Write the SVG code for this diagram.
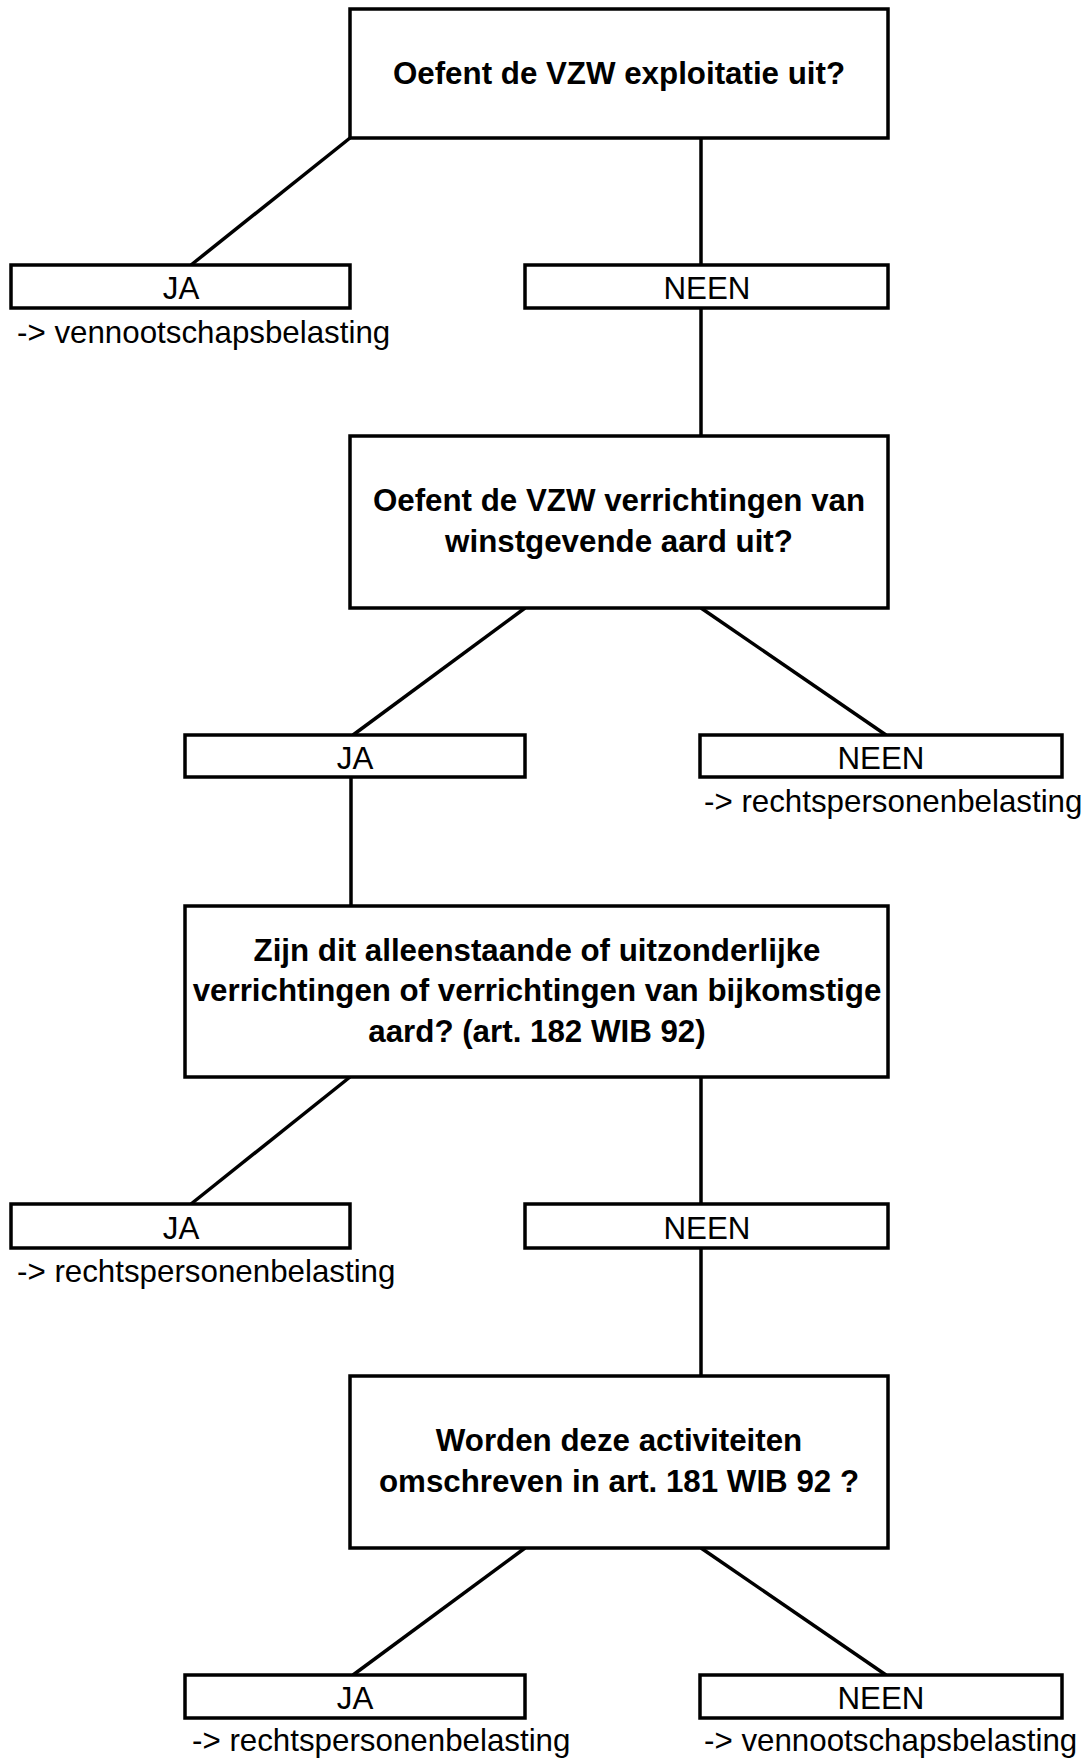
<svg xmlns="http://www.w3.org/2000/svg" width="1089" height="1758" viewBox="0 0 1089 1758">
<style>
.b{fill:#fff;stroke:#000;stroke-width:3.5}
line{stroke:#000;stroke-width:3.5}
text{font-family:"Liberation Sans",Arial,sans-serif;font-size:31.3px;fill:#000}
.q{font-weight:bold;text-anchor:middle}
.a{text-anchor:middle}
</style>
<rect width="1089" height="1758" fill="#fff"/>
<g id="connectors">
<line x1="350" y1="138" x2="191" y2="265"/>
<line x1="701" y1="138" x2="701" y2="265"/>
<line x1="701" y1="308" x2="701" y2="436"/>
<line x1="525" y1="608" x2="353" y2="735"/>
<line x1="701" y1="608" x2="886" y2="735"/>
<line x1="351" y1="777" x2="351" y2="906"/>
<line x1="350" y1="1077" x2="191" y2="1204"/>
<line x1="701" y1="1077" x2="701" y2="1204"/>
<line x1="701" y1="1248" x2="701" y2="1376"/>
<line x1="525" y1="1548" x2="353" y2="1675"/>
<line x1="701" y1="1548" x2="886" y2="1675"/>
</g>
<g id="q1"><rect class="b" x="350" y="9" width="538" height="129"/><text class="q" x="619" y="84">Oefent de VZW exploitatie uit?</text></g>
<g id="ja1"><rect class="b" x="11" y="265" width="339" height="43"/><text class="a" x="181" y="299">JA</text><text x="17" y="343">-&gt; vennootschapsbelasting</text></g>
<g id="neen1"><rect class="b" x="525" y="265" width="363" height="43"/><text class="a" x="707" y="299">NEEN</text></g>
<g id="q2"><rect class="b" x="350" y="436" width="538" height="172"/><text class="q" x="619" y="511">Oefent de VZW verrichtingen van</text><text class="q" x="619" y="552">winstgevende aard uit?</text></g>
<g id="ja2"><rect class="b" x="185" y="735" width="340" height="42"/><text class="a" x="355" y="769">JA</text></g>
<g id="neen2"><rect class="b" x="700" y="735" width="362" height="42"/><text class="a" x="881" y="769">NEEN</text><text x="704" y="812">-&gt; rechtspersonenbelasting</text></g>
<g id="q3"><rect class="b" x="185" y="906" width="703" height="171"/><text class="q" x="537" y="961">Zijn dit alleenstaande of uitzonderlijke</text><text class="q" x="537" y="1001">verrichtingen of verrichtingen van bijkomstige</text><text class="q" x="537" y="1042">aard? (art. 182 WIB 92)</text></g>
<g id="ja3"><rect class="b" x="11" y="1204" width="339" height="44"/><text class="a" x="181" y="1239">JA</text><text x="17" y="1282">-&gt; rechtspersonenbelasting</text></g>
<g id="neen3"><rect class="b" x="525" y="1204" width="363" height="44"/><text class="a" x="707" y="1239">NEEN</text></g>
<g id="q4"><rect class="b" x="350" y="1376" width="538" height="172"/><text class="q" x="619" y="1451">Worden deze activiteiten</text><text class="q" x="619" y="1492">omschreven in art. 181 WIB 92 ?</text></g>
<g id="ja4"><rect class="b" x="185" y="1675" width="340" height="43"/><text class="a" x="355" y="1709">JA</text><text x="192" y="1751">-&gt; rechtspersonenbelasting</text></g>
<g id="neen4"><rect class="b" x="700" y="1675" width="362" height="43"/><text class="a" x="881" y="1709">NEEN</text><text x="704" y="1751">-&gt; vennootschapsbelasting</text></g>
</svg>
